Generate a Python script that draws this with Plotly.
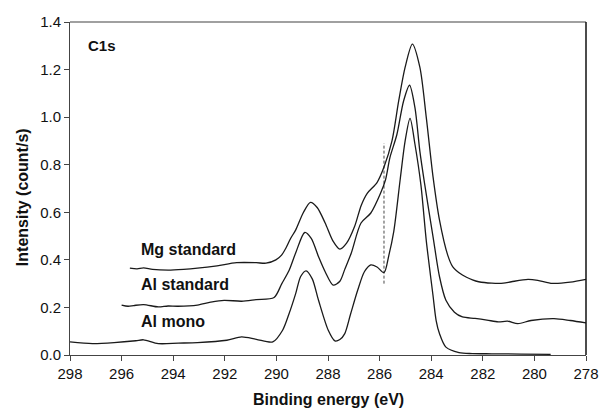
import plotly.graph_objects as go

# Binding energy (eV) and intensity (count/s)
mg_energy = [295.68, 295.40, 295.15, 294.80, 294.20, 293.60, 293.06, 292.30, 291.54, 290.78,
             290.40, 290.02, 289.80, 289.63, 289.45, 289.25, 288.95, 288.68, 288.42, 288.11,
             287.81, 287.54, 287.28, 286.97, 286.71, 286.48, 286.10, 285.83, 285.52, 285.26,
             285.01, 284.73, 284.44, 284.19, 283.93, 283.68, 283.36, 283.17, 282.79, 282.40,
             282.16, 281.65, 281.20, 280.89, 280.25, 279.87, 279.30, 278.61, 278.00]
mg_values = [0.365, 0.362, 0.366, 0.360, 0.357, 0.360, 0.365, 0.375, 0.388, 0.388,
             0.386, 0.400, 0.420, 0.450, 0.490, 0.526, 0.600, 0.642, 0.620, 0.555,
             0.480, 0.445, 0.470, 0.540, 0.630, 0.680, 0.725, 0.790, 0.900, 1.068,
             1.210, 1.307, 1.210, 0.998, 0.750, 0.568, 0.420, 0.372, 0.336, 0.316,
             0.308, 0.302, 0.302, 0.308, 0.318, 0.314, 0.301, 0.306, 0.318]

al_std_energy = [296.00, 295.75, 295.53, 295.15, 294.58, 294.20, 293.82, 293.06, 292.55, 292.03,
                 291.35, 290.78, 290.09, 289.79, 289.51, 289.25, 288.90, 288.65, 288.37, 288.11,
                 287.80, 287.54, 287.35, 287.10, 286.72, 286.34, 285.96, 285.77, 285.60, 285.33,
                 285.07, 284.84, 284.63, 284.44, 284.25, 283.93, 283.68, 283.43, 283.10, 282.79,
                 282.30, 281.84, 281.40, 281.04, 280.64, 280.13, 279.24, 278.61, 278.00]
al_std_values = [0.210, 0.205, 0.208, 0.212, 0.202, 0.206, 0.205, 0.210, 0.222, 0.230,
                 0.226, 0.233, 0.242, 0.300, 0.355, 0.430, 0.515, 0.490, 0.414, 0.350,
                 0.294, 0.310, 0.360, 0.428, 0.555, 0.597, 0.681, 0.737, 0.830, 0.927,
                 1.068, 1.134, 1.040, 0.857, 0.716, 0.498, 0.330, 0.230, 0.180, 0.160,
                 0.154, 0.147, 0.139, 0.142, 0.132, 0.145, 0.153, 0.145, 0.135]

al_mono_energy = [298.00, 297.13, 296.29, 295.45, 295.15, 294.58, 293.80, 293.06, 291.92, 291.35,
                  290.78, 290.14, 289.76, 289.52, 289.25, 289.06, 288.85, 288.61, 288.37, 287.99,
                  287.73, 287.54, 287.35, 287.13, 286.85, 286.59, 286.34, 286.10, 285.83, 285.64,
                  285.45, 285.20, 285.01, 284.82, 284.63, 284.40, 284.19, 283.93, 283.81, 283.68,
                  283.43, 282.92, 282.41, 281.65, 280.51, 279.37]
al_mono_values = [0.055, 0.048, 0.052, 0.060, 0.064, 0.048, 0.050, 0.052, 0.062, 0.076,
                  0.066, 0.055, 0.104, 0.170, 0.259, 0.330, 0.354, 0.320, 0.231, 0.104,
                  0.059, 0.065, 0.090, 0.170, 0.272, 0.350, 0.379, 0.370, 0.346, 0.420,
                  0.520, 0.740, 0.900, 0.995, 0.886, 0.716, 0.480, 0.250, 0.146, 0.090,
                  0.033, 0.010, 0.006, 0.005, 0.004, 0.003]

marker_energy = [285.83, 285.83]
marker_values = [0.30, 0.89]

series_labels = ["Mg standard", "Al standard", "Al mono"]
label_y = [0.445, 0.296, 0.139]
x_ticks = list(range(278, 299, 2))
y_ticks = [0.0, 0.2, 0.4, 0.6, 0.8, 1.0, 1.2, 1.4]

FONT = "Arial, 'Liberation Sans', sans-serif"
LINE = "#1a1a1a"

fig = go.Figure()
for xs, ys, name in [(mg_energy, mg_values, series_labels[0]),
                     (al_std_energy, al_std_values, series_labels[1]),
                     (al_mono_energy, al_mono_values, series_labels[2])]:
    fig.add_trace(go.Scatter(x=xs, y=ys, mode="lines", name=name,
                             line=dict(color=LINE, width=1.3, shape="spline", smoothing=0.8),
                             showlegend=False, hoverinfo="skip"))

fig.add_trace(go.Scatter(x=marker_energy, y=marker_values, mode="lines",
                         line=dict(color=LINE, width=0.8, dash="3px,2px"),
                         showlegend=False, hoverinfo="skip"))

for name, yv in zip(series_labels, label_y):
    fig.add_annotation(x=295.34, y=yv, text="<b>" + name + "</b>", showarrow=False,
                       xanchor="left", yanchor="middle",
                       font=dict(family=FONT, size=16, color="#111"))

fig.add_annotation(x=297.39, y=1.30, text="<b>C1s</b>", showarrow=False,
                   xanchor="left", yanchor="middle", font=dict(family=FONT, size=15, color="#111"))

fig.add_annotation(xref="paper", yref="paper", x=0, y=0.474, xshift=-48,
                   text="<b>Intensity (count/s)</b>", textangle=-90, showarrow=False,
                   xanchor="center", yanchor="middle", font=dict(family=FONT, size=16, color="#111"))
fig.add_annotation(xref="paper", yref="paper", x=0.5, y=0, yshift=-44,
                   text="<b>Binding energy (eV)</b>", showarrow=False,
                   xanchor="center", yanchor="middle", font=dict(family=FONT, size=16, color="#111"))

# box: gray top border, black right border
fig.add_shape(type="line", xref="paper", yref="paper", x0=0, x1=1, y0=1, y1=1,
              line=dict(color="#808080", width=1.5))
fig.add_shape(type="line", xref="paper", yref="paper", x0=1, x1=1, y0=0, y1=1,
              line=dict(color="#111", width=1.5))

fig.update_xaxes(range=[298, 278], tickvals=x_ticks, ticktext=[str(t) for t in x_ticks],
                 showgrid=False, zeroline=False, showline=True, linecolor="#444", linewidth=1,
                 ticks="outside", ticklen=5, tickcolor="#444",
                 tickfont=dict(family=FONT, size=15, color="#111"))
fig.update_yaxes(range=[0, 1.4], tickvals=y_ticks, ticktext=[f"{t:.1f}" for t in y_ticks],
                 showgrid=False, zeroline=False, showline=True, linecolor="#444", linewidth=1,
                 ticks="outside", ticklen=5, tickcolor="#444",
                 tickfont=dict(family=FONT, size=15, color="#111"))

fig.update_layout(width=611, height=410, margin=dict(l=70, r=15, t=22, b=55),
                  plot_bgcolor="white", paper_bgcolor="white")

fig.write_html("out.html")
